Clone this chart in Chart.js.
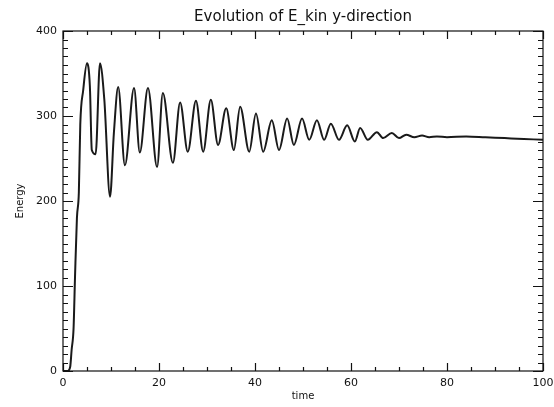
<!DOCTYPE html>
<html>
<head>
<meta charset="utf-8">
<script src="https://cdn.jsdelivr.net/npm/chart.js@4/dist/chart.umd.min.js"></script>
<style>
  html, body { margin: 0; padding: 0; background: #fff; }
  #wrap { width: 554px; height: 407px; }
</style>
</head>
<body>
<div id="wrap"><canvas id="chart" width="554" height="407"></canvas></div>
<script>
// values
const time = [0, 1, 1.5, 1.8, 2.2, 2.5, 2.9, 3.3, 3.6, 4.2, 5.0, 5.6, 6.0, 6.8, 7.7, 8.6, 9.8, 10.6, 11.5, 12.9,
  14.8, 16.0, 17.7, 19.6, 20.8, 22.9, 24.4, 26.0, 27.7, 29.2, 30.8, 32.3, 34.0, 35.6, 36.9, 38.8, 40.2, 41.7,
  43.5, 45.0, 46.7, 48.1, 49.8, 51.3, 52.9, 54.4, 55.8, 57.5, 59.2, 60.8, 61.9, 63.5, 65.4, 66.7, 68.5, 70.0,
  71.5, 73.2, 74.8, 76.3, 77.9, 80, 84, 88, 92, 96, 100];
const energy = [0, 0, 5, 25, 50, 110, 180, 210, 290, 330, 362, 335, 260, 255, 362, 320, 205, 280, 334, 242,
  333, 257, 333, 240, 327, 245, 316, 258, 318, 258, 319, 266, 309, 260, 311, 258, 303, 258,
  295, 260, 297, 266, 297, 272, 295, 272, 291, 272, 289, 270, 286, 272, 281, 274, 280, 274,
  278, 275, 277, 275, 276, 275, 276, 275, 274, 273, 272];
const xTicks = [0, 20, 40, 60, 80, 100];
const yTicks = [0, 100, 200, 300, 400];
const xMinorStep = 5;
const yMinorStep = 10;

const FONT = '"DejaVu Sans", sans-serif';

// IDL style box with inward ticks on all four sides
const boxTicks = {
  id: 'boxTicks',
  afterDraw(chart) {
    const { ctx, chartArea: a, scales: { x, y } } = chart;
    ctx.save();
    ctx.strokeStyle = '#111';
    ctx.lineWidth = 1.2;
    ctx.strokeRect(a.left, a.top, a.right - a.left, a.bottom - a.top);
    ctx.beginPath();
    for (let v = x.min; v <= x.max + 1e-9; v += xMinorStep) {
      const px = Math.round(x.getPixelForValue(v)) + 0.5;
      const len = xTicks.includes(v) ? 8 : 4;
      ctx.moveTo(px, a.bottom); ctx.lineTo(px, a.bottom - len);
      ctx.moveTo(px, a.top); ctx.lineTo(px, a.top + len);
    }
    for (let v = y.min; v <= y.max + 1e-9; v += yMinorStep) {
      const py = Math.round(y.getPixelForValue(v)) + 0.5;
      const len = yTicks.includes(v) ? 10 : 5;
      ctx.moveTo(a.left, py); ctx.lineTo(a.left + len, py);
      ctx.moveTo(a.right, py); ctx.lineTo(a.right - len, py);
    }
    ctx.stroke();
    ctx.restore();
  }
};

new Chart(document.getElementById('chart').getContext('2d'), {
  type: 'line',
  data: {
    datasets: [{
      data: time.map((t, i) => ({ x: t, y: energy[i] })),
      borderColor: '#1a1a1a',
      borderWidth: 2,
      pointRadius: 0,
      cubicInterpolationMode: 'monotone',
      fill: false
    }]
  },
  options: {
    responsive: false,
    animation: false,
    layout: { padding: { left: 0, right: 11, top: 0, bottom: 0 } },
    plugins: {
      legend: { display: false },
      tooltip: { enabled: false },
      title: {
        display: true,
        text: 'Evolution of E_kin y-direction',
        fullSize: false,
        color: '#111',
        font: { family: FONT, size: 15, weight: 'normal', lineHeight: 1.2 },
        padding: { top: 8, bottom: 5 }
      }
    },
    scales: {
      x: {
        type: 'linear',
        min: 0,
        max: 100,
        afterBuildTicks: s => { s.ticks = xTicks.map(v => ({ value: v })); },
        afterFit: s => { s.height = 36; s.paddingLeft = 0; s.paddingRight = 0; },
        grid: { display: false, drawTicks: false },
        border: { display: false },
        ticks: { color: '#111', padding: 6, font: { family: FONT, size: 11 } },
        title: {
          display: true, text: 'time', color: '#111',
          font: { family: FONT, size: 10 }, padding: { top: 0, bottom: 5 }
        }
      },
      y: {
        type: 'linear',
        min: 0,
        max: 400,
        afterBuildTicks: s => { s.ticks = yTicks.map(v => ({ value: v })); },
        afterFit: s => { s.width = 63; s.paddingTop = 0; s.paddingBottom = 0; },
        grid: { display: false, drawTicks: false },
        border: { display: false },
        ticks: { color: '#111', padding: 6, font: { family: FONT, size: 11 } },
        title: {
          display: true, text: 'Energy', color: '#111',
          font: { family: FONT, size: 10 }, padding: { top: 14, bottom: 0 }
        }
      }
    }
  },
  plugins: [boxTicks]
});
</script>
</body>
</html>
